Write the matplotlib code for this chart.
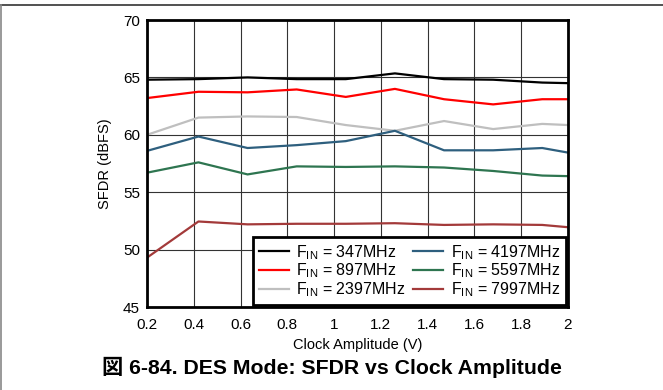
import matplotlib
matplotlib.use("Agg")
from matplotlib import pyplot as plt
from matplotlib.lines import Line2D

plt.rcParams['font.family'] = ['Liberation Sans', 'DejaVu Sans']
plt.rcParams['mathtext.fontset'] = 'custom'
plt.rcParams['mathtext.rm'] = 'Liberation Sans'
plt.rcParams['mathtext.it'] = 'Liberation Sans'

amplitude = [0.2, 0.42, 0.63, 0.84, 1.05, 1.26, 1.47, 1.68, 1.89, 2.0]

sfdr_347 = [64.8, 64.85, 65.0, 64.85, 64.85, 65.35, 64.85, 64.8, 64.55, 64.5]
sfdr_897 = [63.2, 63.75, 63.7, 63.95, 63.3, 64.0, 63.1, 62.65, 63.1, 63.1]
sfdr_2397 = [60.0, 61.5, 61.6, 61.55, 60.85, 60.35, 61.2, 60.5, 60.95, 60.85]
sfdr_4197 = [58.6, 59.85, 58.85, 59.1, 59.45, 60.35, 58.65, 58.65, 58.85, 58.45]
sfdr_5597 = [56.7, 57.6, 56.55, 57.25, 57.2, 57.25, 57.15, 56.85, 56.45, 56.4]
sfdr_7997 = [49.3, 52.45, 52.2, 52.25, 52.25, 52.3, 52.15, 52.2, 52.15, 51.95]

labels = ["347MHz", "897MHz", "2397MHz", "4197MHz", "5597MHz", "7997MHz"]
series = [sfdr_347, sfdr_897, sfdr_2397, sfdr_4197, sfdr_5597, sfdr_7997]
colors = ['#000000', '#FF0000', '#BFBFBF', '#2E5F7E', '#2E7550', '#A33A3A']

x_ticks = [0.2, 0.4, 0.6, 0.8, 1.0, 1.2, 1.4, 1.6, 1.8, 2.0]
x_tick_labels = ["0.2", "0.4", "0.6", "0.8", "1", "1.2", "1.4", "1.6", "1.8", "2"]
y_ticks = [45, 50, 55, 60, 65, 70]

fig = plt.figure(figsize=(6.63, 3.90), dpi=100)
ax = fig.add_axes([0.2217, 0.2128, 0.8567 - 0.2217, 0.9487 - 0.2128])

for vals, lab, c in zip(series, labels, colors):
    ax.plot(amplitude, vals, color=c, linewidth=1.6, label=r"F$_{\mathrm{IN}}$ = " + lab)

ax.set_xlim(0.2, 2.0)
ax.set_ylim(45, 70)
ax.set_xticks(x_ticks)
ax.set_xticklabels(x_tick_labels)
ax.set_yticks(y_ticks)
ax.tick_params(length=0, labelsize=11)
ax.tick_params(axis='x', pad=8)
ax.tick_params(axis='y', pad=5)
ax.grid(True, color='#333333', linewidth=0.8)
ax.set_axisbelow(True)
for s in ax.spines.values():
    s.set_linewidth(2)
    s.set_color('black')

ax.set_xlabel("Clock Amplitude (V)", fontsize=10.5, labelpad=4)
ax.set_ylabel("SFDR (dBFS)", fontsize=10.5, labelpad=8)

leg = ax.legend(loc='lower right', ncol=2, fontsize=11.5, frameon=True, fancybox=False,
                borderaxespad=0.15, handlelength=1.9, handletextpad=0.45,
                columnspacing=0.45, labelspacing=0.0, borderpad=0.35)
leg.get_frame().set_edgecolor('black')
leg.get_frame().set_linewidth(2)
leg.get_frame().set_alpha(1)

fig.text(0.5, 1 - 367 / 390, "図 6-84. DES Mode: SFDR vs Clock Amplitude", ha='center', va='center',
         fontsize=15.3, fontweight='bold',
         family=['Liberation Sans', 'Noto Sans CJK JP'])

# frame lines of the page
fig.add_artist(Line2D([0, 1], [1 - 5 / 390, 1 - 5 / 390], color='#333333', linewidth=1.2))
fig.add_artist(Line2D([1 / 663, 1 / 663], [0, 1 - 5 / 390], color='#888888', linewidth=1.2))

plt.savefig("out.png", dpi=100)
